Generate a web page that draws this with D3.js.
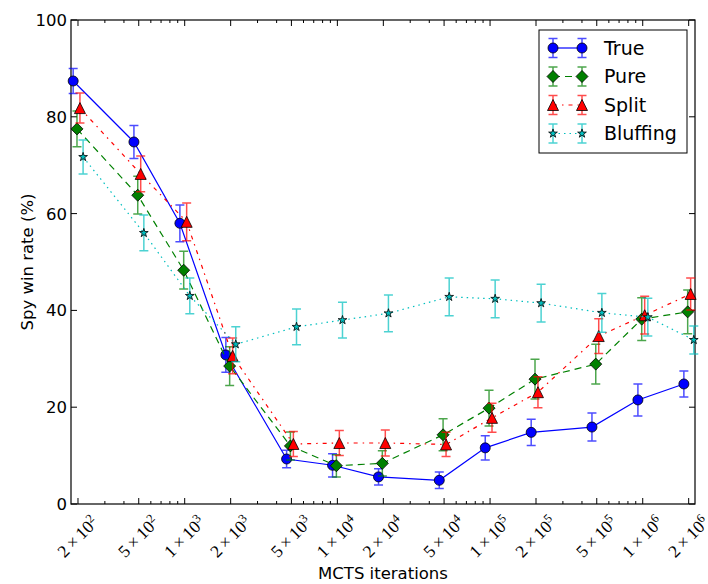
<!DOCTYPE html>
<html>
<head>
<meta charset="utf-8">
<script src="https://cdn.jsdelivr.net/npm/d3@7/dist/d3.min.js"></script>
<style>
  body { margin: 0; background: #fff; }
  svg text { font-family: 'DejaVu Sans', sans-serif; fill: #000; }
  .math { font-family: 'Liberation Serif', serif; }
</style>
</head>
<body>
<div id="chart"></div>
<script>
// MCTS iterations (x) and spy win rates (%) with error bar half-widths
let iterations = [200, 500, 1000, 2000, 5000, 1e4, 2e4, 5e4, 1e5, 2e5, 5e5, 1e6, 2e6]

let seriesNames = ['True', 'Pure', 'Split', 'Bluffing']

let trueRate = [87.4, 74.8, 58.0, 30.8, 9.3, 8.0, 5.6, 4.9, 11.6, 14.8, 15.9, 21.5, 24.8]
let trueErr = [2.6, 3.4, 3.8, 3.6, 1.8, 2.4, 1.7, 1.7, 2.5, 2.7, 2.9, 3.3, 2.7]

let pureRate = [77.5, 63.8, 48.3, 28.5, 12.0, 7.9, 8.4, 14.3, 19.8, 25.8, 28.9, 38.2, 39.7]
let pureErr = [3.7, 3.9, 3.9, 4.0, 2.9, 2.3, 2.6, 3.3, 3.7, 4.1, 4.1, 4.4, 4.5]

let splitRate = [81.8, 68.2, 58.3, 30.6, 12.4, 12.6, 12.6, 12.3, 17.8, 23.1, 34.7, 39.0, 43.4]
let splitErr = [3.1, 3.7, 3.9, 3.7, 2.6, 2.6, 2.7, 2.5, 3.0, 3.2, 3.6, 3.9, 3.3]

let bluffRate = [71.7, 56.0, 43.0, 33.0, 36.6, 38.0, 39.4, 42.8, 42.4, 41.5, 39.5, 38.6, 33.9]
let bluffErr = [3.5, 3.7, 3.7, 3.6, 3.7, 3.7, 3.8, 3.9, 3.9, 3.9, 4.0, 3.9, 2.9]

let xTicks = [200, 500, 1e3, 2e3, 5e3, 1e4, 2e4, 5e4, 1e5, 2e5, 5e5, 1e6, 2e6]
let yTicks = [0, 20, 40, 60, 80, 100]

let rates = [trueRate, pureRate, splitRate, bluffRate]
let errs = [trueErr, pureErr, splitErr, bluffErr]

// look of each series (kept apart from the values)
let styles = [
  {color: '#0000ff', dash: null, marker: 'circle', shift: 0.93},
  {color: '#008000', dash: '7,5', marker: 'diamond', shift: 0.985},
  {color: '#ff0000', dash: '4,5,1.5,5', marker: 'triangle', shift: 1.03},
  {color: '#00bfbf', dash: '1.5,4', marker: 'star', shift: 1.08}
]

let width = 708,
  height = 584,
  margin = {top: 20, right: 13, bottom: 80, left: 71},
  plotW = width - margin.left - margin.right,
  plotH = height - margin.top - margin.bottom

let x = d3.scaleLog()
  .domain([180, 2.2e6])
  .range([margin.left, margin.left + plotW])

let y = d3.scaleLinear()
  .domain([0, 100])
  .range([margin.top + plotH, margin.top])

let svg = d3.select('#chart').append('svg')
  .attr('width', width)
  .attr('height', height)

function markerPath(type) {
  if (type === 'circle') {
    return d3.symbol().type(d3.symbolCircle).size(Math.PI * 25)()
  }
  if (type === 'diamond') {
    let r = 6
    return 'M0,' + (-r) + 'L' + r + ',0L0,' + r + 'L' + (-r) + ',0Z'
  }
  if (type === 'triangle') {
    let r = 5.5
    return 'M0,' + (-r) + 'L' + r + ',' + r + 'L' + (-r) + ',' + r + 'Z'
  }
  // five point star
  let pts = []
  for (let k = 0; k < 10; k++) {
    let rr = k % 2 === 0 ? 4.6 : 4.6 * 0.382
    let a = -Math.PI / 2 + k * Math.PI / 5
    pts.push([rr * Math.cos(a), rr * Math.sin(a)])
  }
  return 'M' + pts.map(function (p) { return p[0].toFixed(2) + ',' + p[1].toFixed(2) }).join('L') + 'Z'
}

// minor log ticks
let minorTicks = []
for (let dec = 100; dec <= 1e6; dec *= 10) {
  for (let n = 1; n <= 9; n++) {
    let v = n * dec
    if (v >= 180 && v <= 2.2e6 && xTicks.indexOf(v) < 0) minorTicks.push(v)
  }
}

let axisG = svg.append('g').attr('class', 'axes')
let yTop = margin.top, yBot = margin.top + plotH
let xLeft = margin.left, xRight = margin.left + plotW

// major x ticks, bottom and top, inward
axisG.selectAll('.xmaj')
  .data(xTicks)
  .enter().append('path')
  .attr('d', function (d) {
    let px = x(d)
    return 'M' + px + ',' + yBot + 'v-6M' + px + ',' + yTop + 'v6'
  })
  .attr('stroke', '#000')

axisG.selectAll('.xmin')
  .data(minorTicks)
  .enter().append('path')
  .attr('d', function (d) {
    let px = x(d)
    return 'M' + px + ',' + yBot + 'v-3M' + px + ',' + yTop + 'v3'
  })
  .attr('stroke', '#000')

// y ticks left and right
axisG.selectAll('.ymaj')
  .data(yTicks)
  .enter().append('path')
  .attr('d', function (d) {
    let py = y(d)
    return 'M' + xLeft + ',' + py + 'h6M' + xRight + ',' + py + 'h-6'
  })
  .attr('stroke', '#000')

axisG.selectAll('.ylab')
  .data(yTicks)
  .enter().append('text')
  .attr('x', xLeft - 4)
  .attr('y', function (d) { return y(d) })
  .attr('dy', '0.36em')
  .attr('text-anchor', 'end')
  .attr('font-size', 16.5)
  .text(function (d) { return d })

// x tick labels like 2×10^3, rotated
let xLab = axisG.selectAll('.xlab')
  .data(xTicks)
  .enter().append('text')
  .attr('class', 'math')
  .attr('font-size', 17.5)
  .attr('text-anchor', 'middle')
  .attr('transform', function (d) { return 'translate(' + (x(d) - 1) + ',' + 536 + ') rotate(-45)' })
  .attr('dy', '0.4em')

xLab.append('tspan')
  .text(function (d) {
    let e = Math.floor(Math.log10(d) + 1e-9)
    let m = Math.round(d / Math.pow(10, e))
    return m + '\u2009\u00d7\u200910'
  })
xLab.append('tspan')
  .attr('dy', '-0.5em')
  .attr('font-size', 12.5)
  .text(function (d) { return Math.floor(Math.log10(d) + 1e-9) })

// frame
svg.append('rect')
  .attr('x', xLeft)
  .attr('y', yTop)
  .attr('width', plotW)
  .attr('height', plotH)
  .attr('fill', 'none')
  .attr('stroke', '#000')
  .attr('stroke-width', 1.2)

// axis titles
svg.append('text')
  .attr('x', (xLeft + xRight) / 2)
  .attr('y', 579)
  .attr('text-anchor', 'middle')
  .attr('font-size', 16.5)
  .text('MCTS iterations')

svg.append('text')
  .attr('transform', 'translate(' + 33 + ',' + ((yTop + yBot) / 2) + ') rotate(-90)')
  .attr('text-anchor', 'middle')
  .attr('font-size', 16.5)
  .text('Spy win rate (%)')

// series
let line = d3.line()
  .x(function (d) { return x(d.it) })
  .y(function (d) { return y(d.v) })

let plot = svg.append('g')

rates.forEach(function (vals, s) {
  let st = styles[s]
  let pts = vals.map(function (v, i) {
    return {it: iterations[i] * st.shift, v: v, e: errs[s][i]}
  })
  let g = plot.append('g')

  g.selectAll('.err')
    .data(pts)
    .enter().append('path')
    .attr('d', function (d) {
      let px = x(d.it), y0 = y(d.v - d.e), y1 = y(d.v + d.e)
      return 'M' + px + ',' + y0 + 'V' + y1 +
        'M' + (px - 4.5) + ',' + y0 + 'h9M' + (px - 4.5) + ',' + y1 + 'h9'
    })
    .attr('stroke', st.color)
    .attr('stroke-opacity', 0.7)
    .attr('stroke-width', 1.5)
    .attr('fill', 'none')

  g.append('path')
    .datum(pts)
    .attr('d', line)
    .attr('fill', 'none')
    .attr('stroke', st.color)
    .attr('stroke-width', 1.2)
    .attr('stroke-dasharray', st.dash)

  g.selectAll('.mk')
    .data(pts)
    .enter().append('path')
    .attr('transform', function (d) { return 'translate(' + x(d.it) + ',' + y(d.v) + ')' })
    .attr('d', markerPath(st.marker))
    .attr('fill', st.color)
    .attr('stroke', '#000')
    .attr('stroke-width', 0.8)
})

// legend
let legend = svg.append('g')
legend.append('rect')
  .attr('x', 539)
  .attr('y', 30)
  .attr('width', 148)
  .attr('height', 123)
  .attr('fill', '#fff')
  .attr('stroke', '#000')

seriesNames.forEach(function (name, s) {
  let st = styles[s]
  let ly = 48 + s * 28.5
  let row = legend.append('g')
  row.append('line')
    .attr('x1', 553).attr('x2', 582)
    .attr('y1', ly).attr('y2', ly)
    .attr('stroke', st.color)
    .attr('stroke-width', 1.2)
    .attr('stroke-dasharray', st.dash)
  ;[553, 582].forEach(function (lx) {
    row.append('path')
      .attr('d', 'M' + lx + ',' + (ly - 9.5) + 'V' + (ly + 9.5) +
        'M' + (lx - 4.5) + ',' + (ly - 9.5) + 'h9M' + (lx - 4.5) + ',' + (ly + 9.5) + 'h9')
      .attr('stroke', st.color)
      .attr('stroke-opacity', 0.7)
      .attr('stroke-width', 1.5)
    row.append('path')
      .attr('transform', 'translate(' + lx + ',' + ly + ')')
      .attr('d', markerPath(st.marker))
      .attr('fill', st.color)
      .attr('stroke', '#000')
      .attr('stroke-width', 0.8)
  })
  row.append('text')
    .attr('x', 604)
    .attr('y', ly)
    .attr('dy', '0.36em')
    .attr('font-size', 19)
    .text(name)
})
</script>
</body>
</html>
